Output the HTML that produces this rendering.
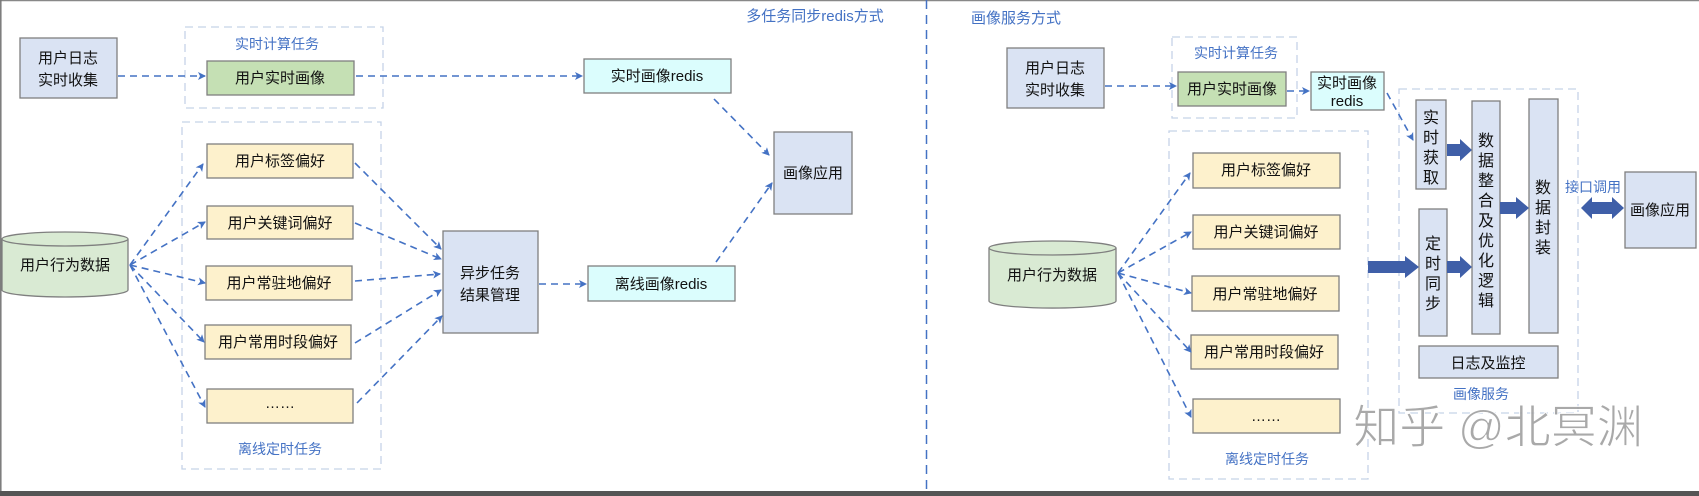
<!DOCTYPE html>
<html><head><meta charset="utf-8"><style>
html,body{margin:0;padding:0;background:#fff;}
svg{display:block;}
text{font-family:"Liberation Sans","Noto Sans CJK SC",sans-serif;}
</style></head><body>
<svg width="1699" height="496" viewBox="0 0 1699 496" xmlns="http://www.w3.org/2000/svg">
<defs>
<marker id="a" markerWidth="8" markerHeight="8" refX="7" refY="4" orient="auto" markerUnits="userSpaceOnUse"><path d="M0,0 L8,4 L0,8 L2,4 z" fill="#4472c4"/></marker>
</defs>
<rect x="0" y="0" width="1699" height="496" fill="#fff"/>
<line x1="0" y1="0.5" x2="1699" y2="0.5" stroke="#888" stroke-width="1.5"/>
<line x1="0.8" y1="0" x2="0.8" y2="496" stroke="#777" stroke-width="1.5"/>
<rect x="0" y="491" width="1699" height="5" fill="#555"/>
<line x1="926.5" y1="0" x2="926.5" y2="490" stroke="#4472c4" stroke-width="1.5" stroke-dasharray="9,6"/>

<g font-size="15" fill="#4472c4">
<text x="815" y="21" text-anchor="middle">多任务同步redis方式</text>
<text x="1016" y="23" text-anchor="middle">画像服务方式</text>
</g>

<!-- LEFT -->
<g fill="none" stroke="#c5d3e8" stroke-width="1.3" stroke-dasharray="8,5">
<rect x="185" y="27" width="198" height="81"/>
<rect x="182" y="122" width="199" height="347"/>
<rect x="1172" y="37" width="125" height="81"/>
<rect x="1169" y="131" width="199" height="348"/>
<rect x="1399" y="89" width="179" height="324"/>
</g>
<g font-size="14" fill="#4472c4" text-anchor="middle">
<text x="277" y="49">实时计算任务</text>
<text x="280" y="454">离线定时任务</text>
<text x="1236" y="58">实时计算任务</text>
<text x="1267" y="464">离线定时任务</text>
<text x="1481" y="399">画像服务</text>
<text x="1593" y="192">接口调用</text>
</g>

<g stroke="#7f7f7f" stroke-width="1.3">
<rect x="20" y="38" width="97" height="60" fill="#dae3f3"/>
<rect x="207" y="61" width="147" height="34" fill="#c5e0b4"/>
<rect x="584" y="59" width="147" height="34" fill="#dbfdfd"/>
<rect x="774" y="132" width="78" height="82" fill="#dae3f3"/>
<rect x="443" y="231" width="95" height="102" fill="#dae3f3"/>
<rect x="588" y="266" width="147" height="35" fill="#dbfdfd"/>
<g fill="#fdf1cc">
<rect x="207" y="144" width="146" height="34"/>
<rect x="207" y="206" width="146" height="33"/>
<rect x="206" y="266" width="146" height="34"/>
<rect x="205" y="325" width="146" height="34"/>
<rect x="207" y="389" width="146" height="34"/>
</g>
<path d="M2,239 L2,290 A63,7 0 0 0 128,290 L128,239" fill="#d9ead3"/>
<ellipse cx="65" cy="239" rx="63" ry="7" fill="#d9ead3"/>
</g>
<g font-size="15" fill="#111" text-anchor="middle">
<text x="68" y="63">用户日志</text>
<text x="68" y="85">实时收集</text>
<text x="280" y="83">用户实时画像</text>
<text x="657" y="81">实时画像redis</text>
<text x="813" y="178">画像应用</text>
<text x="490" y="278">异步任务</text>
<text x="490" y="300">结果管理</text>
<text x="661" y="289">离线画像redis</text>
<text x="280" y="166">用户标签偏好</text>
<text x="280" y="228">用户关键词偏好</text>
<text x="279" y="288">用户常驻地偏好</text>
<text x="278" y="347">用户常用时段偏好</text>
<text x="280" y="408">……</text>
<text x="65" y="270">用户行为数据</text>
</g>
<g stroke="#4472c4" stroke-width="1.6" stroke-dasharray="7,5" fill="none" marker-end="url(#a)">
<line x1="118" y1="76" x2="205" y2="76"/>
<line x1="356" y1="76" x2="582" y2="76"/>
<line x1="714" y1="99" x2="769" y2="155"/>
<line x1="716" y1="262" x2="772" y2="183"/>
<line x1="539" y1="284" x2="586" y2="284"/>
<line x1="130" y1="265" x2="203" y2="164"/>
<line x1="130" y1="265" x2="205" y2="222"/>
<line x1="130" y1="265" x2="205" y2="283"/>
<line x1="130" y1="265" x2="204" y2="342"/>
<line x1="130" y1="265" x2="205" y2="407"/>
<line x1="355" y1="163" x2="441" y2="249"/>
<line x1="355" y1="223" x2="441" y2="259"/>
<line x1="355" y1="281" x2="440" y2="274"/>
<line x1="355" y1="343" x2="441" y2="290"/>
<line x1="357" y1="403" x2="442" y2="316"/>
</g>

<!-- RIGHT -->
<g stroke="#7f7f7f" stroke-width="1.3">
<rect x="1007" y="48" width="97" height="60" fill="#dae3f3"/>
<rect x="1178" y="72" width="108" height="34" fill="#c5e0b4"/>
<rect x="1311" y="72" width="73" height="38" fill="#dbfdfd"/>
<rect x="1416" y="100" width="30" height="89" fill="#dae3f3"/>
<rect x="1419" y="209" width="28" height="127" fill="#dae3f3"/>
<rect x="1472" y="101" width="28" height="233" fill="#dae3f3"/>
<rect x="1529" y="99" width="29" height="234" fill="#dae3f3"/>
<rect x="1419" y="346" width="139" height="32" fill="#dae3f3"/>
<rect x="1625" y="172" width="71" height="76" fill="#dae3f3"/>
<g fill="#fdf1cc">
<rect x="1193" y="153" width="147" height="35"/>
<rect x="1193" y="215" width="147" height="34"/>
<rect x="1192" y="276" width="147" height="35"/>
<rect x="1191" y="335" width="147" height="34"/>
<rect x="1193" y="399" width="147" height="34"/>
</g>
<path d="M989,248 L989,301 A63,7 0 0 0 1116,301 L1116,248" fill="#d9ead3"/>
<ellipse cx="1052.5" cy="248" rx="63.5" ry="7" fill="#d9ead3"/>
</g>
<g font-size="15" fill="#111" text-anchor="middle">
<text x="1055" y="73">用户日志</text>
<text x="1055" y="95">实时收集</text>
<text x="1232" y="94">用户实时画像</text>
<text x="1347" y="88">实时画像</text>
<text x="1347" y="106">redis</text>
<text x="1266" y="175">用户标签偏好</text>
<text x="1266" y="237">用户关键词偏好</text>
<text x="1265" y="299">用户常驻地偏好</text>
<text x="1264" y="357">用户常用时段偏好</text>
<text x="1266" y="421">……</text>
<text x="1052" y="280">用户行为数据</text>
<text x="1488" y="368">日志及监控</text>
<text x="1660" y="215">画像应用</text>
</g>
<g font-size="16" fill="#111" text-anchor="middle">
<text x="1431" y="123">实</text><text x="1431" y="143">时</text><text x="1431" y="163">获</text><text x="1431" y="183">取</text>
<text x="1433" y="249">定</text><text x="1433" y="269">时</text><text x="1433" y="289">同</text><text x="1433" y="309">步</text>
<text x="1486" y="146">数</text><text x="1486" y="166">据</text><text x="1486" y="186">整</text><text x="1486" y="206">合</text><text x="1486" y="226">及</text><text x="1486" y="246">优</text><text x="1486" y="266">化</text><text x="1486" y="286">逻</text><text x="1486" y="306">辑</text>
<text x="1543" y="193">数</text><text x="1543" y="213">据</text><text x="1543" y="233">封</text><text x="1543" y="253">装</text>
</g>
<g fill="#3f5fa8">
<path d="M1368,261 L1405,261 L1405,256 L1419,267 L1405,278 L1405,273 L1368,273 z"/>
<path d="M1447,144 L1460,144 L1460,139 L1472,150 L1460,161 L1460,156 L1447,156 z"/>
<path d="M1447,261 L1460,261 L1460,256 L1472,267 L1460,278 L1460,273 L1447,273 z"/>
<path d="M1500,202 L1516,202 L1516,197 L1529,208 L1516,219 L1516,214 L1500,214 z"/>
<path d="M1581,208 L1592,197 L1592,202 L1612,202 L1612,197 L1624,208 L1612,219 L1612,214 L1592,214 L1592,219 z"/>
</g>
<g stroke="#4472c4" stroke-width="1.6" stroke-dasharray="7,5" fill="none" marker-end="url(#a)">
<line x1="1105" y1="86" x2="1176" y2="86"/>
<line x1="1287" y1="91" x2="1309" y2="91"/>
<line x1="1387" y1="93" x2="1413" y2="140"/>
<line x1="1118" y1="273" x2="1190" y2="173"/>
<line x1="1118" y1="273" x2="1191" y2="232"/>
<line x1="1118" y1="273" x2="1191" y2="293"/>
<line x1="1118" y1="273" x2="1191" y2="352"/>
<line x1="1118" y1="273" x2="1191" y2="417"/>
</g>
<text x="1498" y="443" font-size="46" fill="#a0a0a0" stroke="#fff" stroke-width="1" text-anchor="middle" opacity="0.9">知乎 @北冥渊</text>
</svg>
</body></html>
